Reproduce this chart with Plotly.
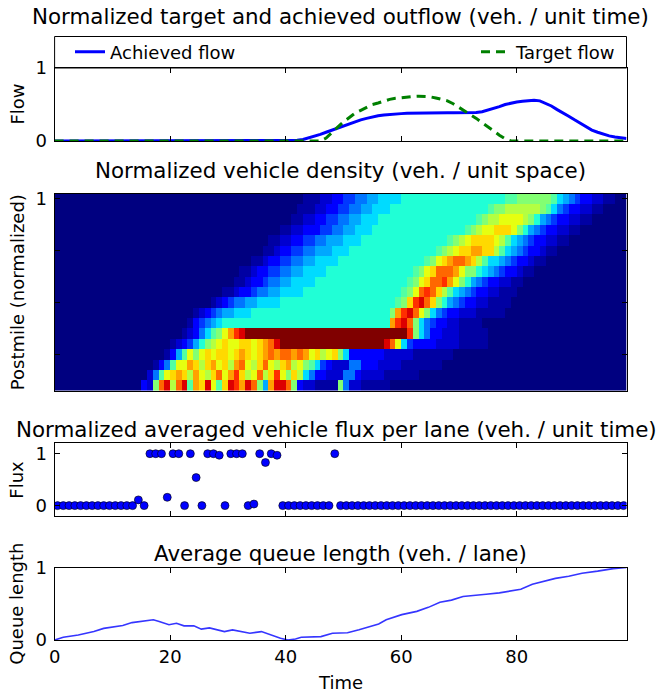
import plotly.graph_objects as go

W, H = 659, 692
FONT = "DejaVu Sans"
TITLE_SIZE = 21.4
LABEL_SIZE = 18

# ---------------- data ----------------
# top panel: normalized outflow
flow_time = [0] + list(range(40, 100))
achieved_flow = [0.0,
    0.0, 0.005, 0.01, 0.02, 0.04, 0.06, 0.09, 0.12, 0.15, 0.18,
    0.21, 0.24, 0.27, 0.29, 0.31, 0.33, 0.345, 0.355, 0.365, 0.37,
    0.375, 0.38, 0.382, 0.384, 0.385, 0.386, 0.386, 0.386, 0.386, 0.386,
    0.386, 0.386, 0.387, 0.39, 0.40, 0.42, 0.44, 0.47, 0.50, 0.52,
    0.535, 0.545, 0.555, 0.557, 0.55, 0.52, 0.48, 0.43, 0.39, 0.34,
    0.29, 0.24, 0.19, 0.15, 0.12, 0.09, 0.07, 0.055, 0.045, 0.035]
target_flow = [0.0,
    0, 0, 0, 0, 0, 0, 0, 0.04, 0.12, 0.19,
    0.26, 0.32, 0.38, 0.42, 0.46, 0.50, 0.52, 0.55, 0.57, 0.585,
    0.595, 0.605, 0.61, 0.613, 0.612, 0.605, 0.59, 0.575, 0.55, 0.51,
    0.46, 0.42, 0.36, 0.31, 0.25, 0.20, 0.14, 0.08, 0.03, 0.0,
    0, 0, 0, 0, 0, 0, 0, 0, 0, 0,
    0, 0, 0, 0, 0, 0, 0, 0, 0, 0]

# density heatmap: 19 road cells (top = postmile 1) x 99 time steps,
# each row run-length coded with density levels
DENSITY_LEVEL = {'0': 0.0, '1': 0.03, '2': 0.07, '3': 0.12, '4': 0.18,
                 '5': 0.24, '6': 0.29, '7': 0.34, '8': 0.39, '9': 0.45,
                 'a': 0.51, 'b': 0.57, 'c': 0.63, 'd': 0.68, 'e': 0.74,
                 'f': 0.80, 'g': 0.86, 'h': 0.92, 'i': 1.0}
density_rows = [
    "0*43 1*3 2*2 3*2 4*2 5*2 6*2 7*4 8*18 9*2 a*6 9*1 7*1 6*1 5*1 4*1 3*2 2*2 1*2 0*2",
    "0*42 1*3 2*2 3*2 4*2 5*2 6*2 7*3 8*17 9*1 a*2 b*6 a*1 9*1 7*1 5*1 4*1 3*2 2*2 1*2 0*4",
    "0*41 1*2 2*2 3*2 4*2 5*2 6*2 7*3 8*17 9*1 a*1 b*2 c*4 b*1 a*1 8*1 6*1 5*1 4*1 3*2 2*2 1*2 0*6",
    "0*39 1*2 2*2 3*3 4*2 5*2 6*2 7*3 8*16 9*1 a*1 b*1 c*2 d*3 c*1 a*1 8*1 6*1 5*1 4*1 3*2 2*2 1*2 0*8",
    "0*37 1*2 2*2 3*2 4*2 5*2 6*3 7*3 8*15 9*1 a*1 b*1 c*1 d*4 c*1 b*1 9*1 7*1 6*1 5*1 4*1 3*2 2*2 1*2 0*10",
    "0*36 1*2 2*1 3*2 4*2 5*2 6*3 7*3 8*15 9*1 a*1 b*1 c*1 d*2 e*2 d*2 b*1 9*1 7*1 6*1 5*1 4*1 3*2 2*1 1*2 0*12",
    "0*34 1*2 2*1 3*2 4*2 5*2 6*2 7*4 8*15 9*1 a*1 c*1 d*1 e*1 f*2 e*1 d*1 b*1 9*1 7*2 6*1 5*1 4*1 3*2 2*1 1*2 0*14",
    "0*32 1*2 2*1 3*2 4*2 5*2 6*2 7*4 8*15 9*1 a*1 c*1 d*1 f*3 e*1 c*1 a*2 8*1 7*1 6*1 5*1 4*1 3*2 2*1 1*2 0*16",
    "0*31 1*2 2*1 3*2 4*1 5*2 6*2 7*4 8*16 9*1 a*1 c*1 d*1 f*2 g*1 e*1 c*1 a*1 8*1 6*1 5*1 4*1 3*2 2*2 1*2 0*18",
    "0*29 1*2 2*1 3*2 4*1 5*2 6*2 7*4 8*17 9*1 a*1 c*1 f*1 g*1 f*1 d*1 b*1 9*1 7*1 6*1 5*1 4*1 3*2 2*2 1*3 0*19",
    "0*27 1*1 2*1 3*1 4*1 5*2 6*2 7*4 8*20 9*1 a*1 d*1 g*1 h*1 f*1 d*1 a*1 8*1 6*1 5*1 4*1 3*2 2*2 1*4 0*20",
    "0*24 1*1 2*1 3*1 4*1 5*1 6*2 7*3 8*24 a*1 e*1 g*1 h*1 f*1 c*1 a*1 7*1 5*1 4*1 3*2 2*3 1*5 0*21",
    "0*23 1*1 3*1 4*1 5*1 6*1 7*1 8*29 e*1 g*1 h*1 f*1 a*1 7*1 5*1 4*1 3*2 2*2 1*4 0*25",
    "0*22 1*1 2*1 3*1 5*1 7*1 9*1 a*1 c*1 e*1 g*1 h*1 i*28 g*1 a*1 7*1 5*1 3*2 2*3 1*5 0*24",
    "0*20 1*1 2*1 3*1 4*1 6*1 8*1 a*1 b*1 c*1 d*1 c*2 d*2 c*1 d*1 e*1 f*1 h*1 i*18 h*1 f*1 c*1 7*1 4*1 3*4 2*4 1*5 0*24",
    "0*19 1*1 3*1 6*1 9*1 c*1 a*1 c*1 d*1 c*1 d*2 c*1 d*1 e*1 d*1 c*1 d*1 e*1 f*1 e*1 f*2 e*1 f*1 e*1 c*1 d*1 b*1 c*1 d*1 a*1 7*1 3*6 2*5 1*7 0*30",
    "0*17 1*1 3*1 5*1 9*1 c*2 e*1 d*1 b*1 d*1 e*1 c*1 d*1 b*1 e*1 f*1 c*1 b*1 d*1 f*1 c*1 b*1 d*1 e*1 b*1 c*1 a*1 9*1 7*1 4*1 3*1 2*3 5*2 3*3 2*4 1*7 0*32",
    "0*16 2*1 5*1 9*1 c*1 d*1 e*1 d*1 b*1 e*1 c*1 b*1 d*1 f*1 c*1 e*1 g*1 d*1 b*1 c*1 f*1 b*1 d*1 g*1 c*1 a*1 d*1 b*1 7*1 5*1 3*2 2*3 5*2 3*1 2*4 1*6 0*36",
    "0*15 3*1 2*1 a*1 f*1 h*1 b*1 f*1 h*1 9*1 e*1 d*1 h*1 c*1 9*1 d*1 h*1 g*1 e*1 h*1 f*1 a*1 6*1 e*1 h*2 f*1 a*1 3*1 2*2 1*4 a*1 5*1 2*2 1*5 0*41",
]
density_ytick_vals = [0, 5, 10, 15]
density_ytick_text = ["1", "", "", ""]

# flux per lane, one point per time step
flux = [0, 0, 0, 0, 0, 0, 0, 0, 0, 0, 0, 0, 0, 0,
        0.11, 0, 1, 1, 1, 0.16, 1, 1, 0, 1, 0.54, 0, 1, 1, 0.97, 0,
        1, 1, 1, 0, 0.03, 1, 0.83, 1, 0.97,
        0, 0, 0, 0, 0, 0, 0, 0, 0, 1,
        0, 0, 0, 0, 0, 0, 0, 0, 0, 0,
        0, 0, 0, 0, 0, 0, 0, 0, 0, 0,
        0, 0, 0, 0, 0, 0, 0, 0, 0, 0,
        0, 0, 0, 0, 0, 0, 0, 0, 0, 0,
        0, 0, 0, 0, 0, 0, 0, 0, 0, 0]

# average queue length
queue_time = [0, 1.5, 4.1, 6.8, 8.5, 10.8, 11.8, 13.4, 15.4, 17.1,
              18.1, 19.8, 21.1, 22.4, 24.1, 25.4, 26.8, 28.1, 29.4, 30.8,
              32.1, 33.8, 35.8, 37.4, 39.1, 40.4, 41.7, 42.7, 46.1, 48.1,
              50.7, 52.7, 54.7, 56.1, 57.4, 60.1, 62.7, 64.7, 66.7, 68.7,
              70.7, 72.7, 74.7, 77.0, 78.7, 80.7, 82.7, 84.7, 86.7, 89.0,
              91.3, 94.0, 96.7, 99.0]
queue_len = [0, 0.037, 0.07, 0.116, 0.16, 0.186, 0.2, 0.24, 0.265, 0.28,
             0.256, 0.21, 0.23, 0.195, 0.195, 0.15, 0.167, 0.14, 0.116, 0.14,
             0.116, 0.093, 0.116, 0.07, 0.023, 0.0, 0.014, 0.037, 0.047, 0.093,
             0.1, 0.14, 0.186, 0.22, 0.28, 0.35, 0.395, 0.45, 0.52, 0.55,
             0.6, 0.61, 0.63, 0.65, 0.67, 0.70, 0.77, 0.81, 0.85, 0.88,
             0.92, 0.95, 0.985, 1.0]

x_ticks = [0, 20, 40, 60, 80]
titles = ["Normalized target and achieved outflow (veh. / unit time)",
          "Normalized vehicle density (veh. / unit space)",
          "Normalized averaged vehicle flux per lane (veh. / unit time)",
          "Average queue length (veh. / lane)"]
ylabels = ["Flow", "Postmile (normalized)", "Flux", "Queue length"]

# ---------------- helpers ----------------
def decode(row):
    out = []
    for tok in row.split():
        code, n = tok.split('*')
        out += [DENSITY_LEVEL[code]] * int(n)
    return (out + [0.0] * 99)[:99]

density = [decode(r) for r in density_rows]
flux_time = [i + 0.5 for i in range(len(flux))]

def fx(px):          # window pixel -> paper fraction
    return px / W

def fy(py):
    return 1 - py / H

JET = [[0.0, 'rgb(0,0,128)'], [0.11, 'rgb(0,0,255)'], [0.125, 'rgb(0,0,255)'],
       [0.34, 'rgb(0,219,255)'], [0.35, 'rgb(0,229,247)'], [0.375, 'rgb(20,255,226)'],
       [0.64, 'rgb(238,255,8)'], [0.65, 'rgb(247,245,0)'], [0.66, 'rgb(255,236,0)'],
       [0.89, 'rgb(255,18,0)'], [0.91, 'rgb(232,0,0)'], [1.0, 'rgb(128,0,0)']]

XL, XR = 54.6, 626.5
panels = [(68, 141), (193.7, 390.7), (443.3, 516), (567.5, 640)]
title_y = [17, 170, 429, 553]
title_x = [340.5, 340.5, 336.5, 340.5]

fig = go.Figure()

fig.add_trace(go.Scatter(x=flow_time, y=achieved_flow, mode='lines', name='Achieved flow',
                         line=dict(color='#0000ff', width=3), cliponaxis=False,
                         xaxis='x', yaxis='y', legend='legend'))
fig.add_trace(go.Scatter(x=flow_time, y=target_flow, mode='lines', name='Target flow',
                         line=dict(color='#008000', width=3, dash='9px,6px'), cliponaxis=False,
                         xaxis='x', yaxis='y', legend='legend2'))
fig.add_trace(go.Heatmap(z=density, x0=0.5, dx=1, y0=0, dy=1, colorscale=JET,
                         zmin=0, zmax=1, showscale=False, xaxis='x2', yaxis='y2',
                         hoverinfo='skip'))
fig.add_trace(go.Scatter(x=flux_time, y=flux, mode='markers', showlegend=False,
                         marker=dict(color='#0000ff', size=8, line=dict(color='black', width=0.6)),
                         xaxis='x3', yaxis='y3'))
fig.add_trace(go.Scatter(x=queue_time, y=queue_len, mode='lines', showlegend=False,
                         line=dict(color='#3535ff', width=1.6), cliponaxis=False,
                         xaxis='x4', yaxis='y4'))

tickfont = dict(family=FONT, size=LABEL_SIZE, color='black')
AX = dict(showline=True, linecolor='black', linewidth=1, mirror='ticks', ticks='inside',
          ticklen=5, tickwidth=1, tickcolor='black', showgrid=False, zeroline=False,
          tickfont=tickfont, automargin=False)

xdom = [fx(XL), fx(XR)]
layout = dict(width=W, height=H, margin=dict(l=0, r=0, t=0, b=0),
              paper_bgcolor='white', plot_bgcolor='white',
              font=dict(family=FONT, size=LABEL_SIZE, color='black'))
for k, (top, bot) in enumerate(panels):
    sx = '' if k == 0 else str(k + 1)
    xa = dict(AX, domain=xdom, range=[0, 99], anchor='y' + sx, tickvals=x_ticks,
              showticklabels=(k == 3))
    ya = dict(AX, domain=[fy(bot), fy(top)], anchor='x' + sx, ticklabelstandoff=3)
    if k == 1:
        xa.update(ticks='', mirror=True)
        ya.update(range=[18.5, -0.5], tickvals=density_ytick_vals, ticktext=density_ytick_text)
    elif k == 2:
        ya.update(range=[-0.2, 1.2], tickvals=[0, 1])
    else:
        ya.update(range=[0, 1], tickvals=[0, 1])
    layout['xaxis' + sx] = xa
    layout['yaxis' + sx] = ya

layout['legend'] = dict(x=fx(70), y=fy(52), xanchor='left', yanchor='middle',
                        bgcolor='rgba(0,0,0,0)', borderwidth=0,
                        font=dict(family=FONT, size=LABEL_SIZE, color='black'))
layout['legend2'] = dict(x=fx(621), y=fy(52), xanchor='right', yanchor='middle',
                         bgcolor='rgba(0,0,0,0)', borderwidth=0,
                         font=dict(family=FONT, size=LABEL_SIZE, color='black'))

shapes = [dict(type='rect', xref='paper', yref='paper', x0=fx(XL), x1=fx(XR),
               y0=fy(panels[0][0]), y1=fy(36.5), line=dict(color='black', width=1),
               fillcolor='rgba(0,0,0,0)', layer='above')]
annotations = []
for k in range(4):
    annotations.append(dict(text=titles[k], x=fx(title_x[k]), y=fy(title_y[k]),
                            xref='paper', yref='paper', showarrow=False,
                            xanchor='center', yanchor='middle',
                            font=dict(family=FONT, size=TITLE_SIZE, color='black')))
    top, bot = panels[k]
    annotations.append(dict(text=ylabels[k], x=fx(17), y=fy((top + bot) / 2),
                            xref='paper', yref='paper', showarrow=False, textangle=-90,
                            xanchor='center', yanchor='middle',
                            font=dict(family=FONT, size=LABEL_SIZE, color='black')))
annotations.append(dict(text='Time', x=fx((XL + XR) / 2), y=fy(682), xref='paper', yref='paper',
                        showarrow=False, xanchor='center', yanchor='middle',
                        font=dict(family=FONT, size=LABEL_SIZE, color='black')))
layout['shapes'] = shapes
layout['annotations'] = annotations
fig.update_layout(**layout)

# remove the browser's default 8px body margin so the figure fills the window
fig.write_html("out.html", config={'displayModeBar': False},
               post_script="document.body.style.margin='0';document.body.style.overflow='hidden';")
